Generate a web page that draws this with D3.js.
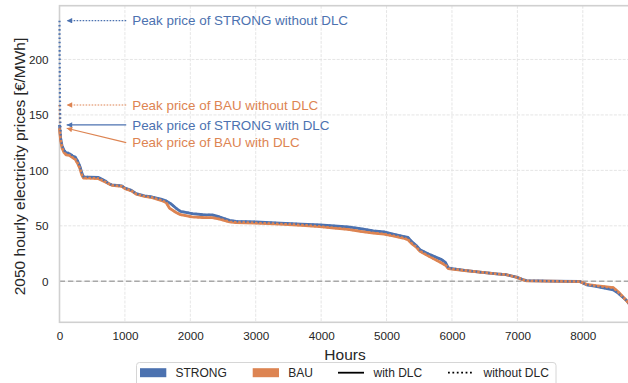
<!DOCTYPE html>
<html>
<head>
<meta charset="utf-8">
<script src="https://cdn.jsdelivr.net/npm/d3@7"></script>
<style>
  html, body { margin: 0; padding: 0; background: #ffffff; }
  svg { display: block; font-family: "Liberation Sans", Arial, sans-serif; }
</style>
</head>
<body>
<svg id="chart" width="628" height="383"></svg>
<script>
// Price duration curves, 2050: [hour rank, price €/MWh]
const strongWithDLC = [
  [0,141],[8,135],[20,128],[40,122],[70,118],[100,116],[150,115],[200,113],[240,112],[280,108],
  [316,103],[340,98],[367,94],[450,94],[596,93.6],[650,92],[700,90.5],[750,88],[800,87],[953,86],
  [1000,84],[1100,82],[1172,79],[1300,77],[1417,76],[1550,74],[1630,72.5],[1700,70],[1783,65.8],
  [1850,63],[2027,61],[2200,60],[2337,59.8],[2450,58],[2600,55],[2700,54],[3000,53.5],[3372,52.5],
  [3700,51.5],[3983,50.8],[4200,50],[4411,49],[4600,47.5],[4800,45.5],[4961,44.5],[5100,42.5],
  [5250,40.5],[5328,39.5],[5384,35.8],[5450,32.5],[5511,28.5],[5664,24],[5842,19.5],[5900,17],
  [5944,12],[6000,11.5],[6224,9.7],[6427,8.3],[6683,6.7],[6825,6],[6989,3.7],[7100,1.2],[7141,0.5],
  [7500,0.2],[7956,-0.2],[8058,-3.2],[8200,-4.5],[8465,-7.7],[8541,-10.7],[8669,-17.3],[8760,-24]
];
const bauWithDLC = [
  [0,138],[8,132],[20,126],[40,120],[70,116],[100,114],[150,113.5],[200,111.5],[240,110],[280,106],
  [316,101],[340,96],[367,93],[450,93],[596,92.5],[700,89.5],[800,86.5],[953,85.5],[1000,83.5],
  [1100,81.5],[1172,78.5],[1300,76.5],[1417,75.5],[1550,73],[1630,71],[1680,66],[1783,62],[1850,60],
  [2027,58],[2200,57.5],[2337,57.4],[2450,56],[2600,53.5],[2700,53],[3000,52.5],[3372,51.5],
  [3700,50.5],[3983,49.2],[4200,48],[4411,46.8],[4600,45],[4800,43.5],[4961,42.5],[5100,41],
  [5250,39],[5328,37.5],[5384,34],[5450,31],[5511,27],[5664,22],[5842,16.5],[5900,14.5],[5944,11.5],
  [6000,11],[6224,9.5],[6427,8.2],[6683,6.6],[6825,6],[6989,3.5],[7100,1],[7141,0.4],[7500,0.1],
  [7956,-0.3],[8058,-2.8],[8200,-4],[8465,-5.7],[8541,-9.5],[8669,-17.5],[8760,-24]
];
const strongWithoutDLC = [
  [0,235],[3,200],[6,170],[10,150],[15,138],[20,129],[40,122],[70,118],[100,116.5],[150,115.5],
  [200,113.5],[240,112],[280,108.5],[316,103],[340,98],[367,94.5],[450,94],[596,93.8],[650,92],
  [700,90.5],[750,88],[800,87],[953,86],[1000,84],[1100,82],[1172,79],[1300,77],[1417,76],[1550,74],
  [1630,72.5],[1700,70],[1783,66],[1850,63],[2027,61.2],[2200,60],[2337,59.8],[2450,58],[2600,55],
  [2700,54],[3000,53.5],[3372,52.5],[3700,51.5],[3983,50.8],[4200,50],[4411,49],[4600,47.5],
  [4800,45.5],[4961,44.5],[5100,42.5],[5250,40.5],[5328,39.5],[5384,35.8],[5450,32.5],[5511,28.5],
  [5664,24],[5842,19.5],[5900,17],[5944,12],[6000,11.5],[6224,9.7],[6427,8.3],[6683,6.7],[6825,6],
  [6989,3.7],[7100,1.2],[7141,0.5],[7500,0.2],[7956,-0.2],[8058,-3.2],[8200,-4.5],[8465,-7.7],
  [8541,-10.7],[8669,-17.3],[8760,-24]
];
const bauWithoutDLC = [
  [0,159],[4,150],[8,142],[12,135],[20,127],[40,120.5],[70,116.5],[100,114.5],[150,113.5],
  [200,111.5],[240,110],[280,106],[316,101],[340,96],[367,93],[450,93],[596,92.5],[700,89.5],
  [800,86.5],[953,85.5],[1000,83.5],[1100,81.5],[1172,78.5],[1300,76.5],[1417,75.5],[1550,73],
  [1630,71],[1680,66],[1783,62],[1850,60],[2027,58],[2200,57.5],[2337,57.4],[2450,56],[2600,53.5],
  [2700,53],[3000,52.5],[3372,51.5],[3700,50.5],[3983,49.2],[4200,48],[4411,46.8],[4600,45],
  [4800,43.5],[4961,42.5],[5100,41],[5250,39],[5328,37.5],[5384,34],[5450,31],[5511,27],[5664,22],
  [5842,16.5],[5900,14.5],[5944,11.5],[6000,11],[6224,9.5],[6427,8.2],[6683,6.6],[6825,6],
  [6989,3.5],[7100,1],[7141,0.4],[7500,0.1],[7956,-0.3],[8058,-2.8],[8200,-4],[8465,-5.7],
  [8541,-9.5],[8669,-17.5],[8760,-24]
];

const xTicks = [0,1000,2000,3000,4000,5000,6000,7000,8000];
const yTicks = [0,50,100,150,200];
const scenarios = ["STRONG", "BAU"];
const dlcCases = ["with DLC", "without DLC"];

const COLORS = { STRONG: "#4c72b0", BAU: "#dd8452" };

const svg = d3.select("#chart");
const L = 59.5, R = 632.5, T = 5.7, B = 322.3;

const x = d3.scaleLinear().domain([0, 8760]).range([L, R]);
const y = d3.scaleLinear().domain([-37, 248.5]).range([B, T]);

// grid
const grid = svg.append("g");
grid.selectAll("line.vx").data(xTicks).enter().append("line")
  .attr("x1", d => x(d)).attr("x2", d => x(d)).attr("y1", T).attr("y2", B)
  .attr("stroke", "#e2e2e2").attr("stroke-width", 0.9).attr("stroke-dasharray", "3,1.4");
grid.selectAll("line.hy").data(yTicks).enter().append("line")
  .attr("x1", L).attr("x2", R).attr("y1", d => y(d)).attr("y2", d => y(d))
  .attr("stroke", "#e2e2e2").attr("stroke-width", 0.9).attr("stroke-dasharray", "3,1.4");

// axes (tick labels only, seaborn whitegrid style)
const xAxis = svg.append("g").attr("transform", `translate(0,${B})`)
  .call(d3.axisBottom(x).tickValues(xTicks).tickSize(0).tickPadding(9).tickFormat(d3.format("d")));
const yAxis = svg.append("g").attr("transform", `translate(${L},0)`)
  .call(d3.axisLeft(y).tickValues(yTicks).tickSize(0).tickPadding(11).tickFormat(d3.format("d")));
[xAxis, yAxis].forEach(g => {
  g.select(".domain").remove();
  g.selectAll("text").attr("fill", "#262626").style("font-size", "11.7px")
    .style("font-family", "'Liberation Sans', Arial, sans-serif");
});

// zero reference line
svg.append("line")
  .attr("x1", L).attr("x2", R).attr("y1", y(0)).attr("y2", y(0))
  .attr("stroke", "#a8a8a8").attr("stroke-width", 1.5).attr("stroke-dasharray", "5.5,2.8");

// frame
svg.append("rect")
  .attr("x", L).attr("y", T).attr("width", R - L).attr("height", B - T)
  .attr("fill", "none").attr("stroke", "#d0d0d0").attr("stroke-width", 1.6);

// curves
const line = d3.line().x(d => x(d[0])).y(d => y(d[1]));
const plot = svg.append("g");
const curves = [
  { data: strongWithDLC, scen: "STRONG", dotted: false },
  { data: bauWithDLC, scen: "BAU", dotted: false },
  { data: bauWithoutDLC, scen: "BAU", dotted: true },
  { data: strongWithoutDLC, scen: "STRONG", dotted: true }
];
curves.forEach(c => {
  plot.append("path").datum(c.data).attr("d", line)
    .attr("fill", "none")
    .attr("stroke", COLORS[c.scen])
    .attr("stroke-width", c.dotted ? 2.2 : 2.8)
    .attr("stroke-linejoin", "round")
    .attr("stroke-dasharray", c.dotted ? "1.6,2.6" : null);
});

// peak annotations
const peak = arr => d3.max(arr, d => d[1]);
const notes = [
  { text: "Peak price of STRONG without DLC", scen: "STRONG", value: peak(strongWithoutDLC), dotted: true, textValue: peak(strongWithoutDLC) },
  { text: "Peak price of BAU without DLC", scen: "BAU", value: peak(bauWithoutDLC), dotted: true, textValue: peak(bauWithoutDLC) },
  { text: "Peak price of STRONG with DLC", scen: "STRONG", value: peak(strongWithDLC), dotted: false, textValue: peak(strongWithDLC) },
  { text: "Peak price of BAU with DLC", scen: "BAU", value: peak(bauWithDLC), dotted: false, textValue: 125 }
];
const defs = svg.append("defs");
scenarios.forEach(s => {
  defs.append("marker").attr("id", "arrow-" + s)
    .attr("viewBox", "0 0 10 10").attr("refX", 10).attr("refY", 5)
    .attr("markerUnits", "userSpaceOnUse").attr("markerWidth", 7.5).attr("markerHeight", 5.5)
    .attr("orient", "auto")
    .append("path").attr("d", "M0,0 L10,5 L0,10 Z").attr("fill", COLORS[s]);
});
const ann = svg.append("g");
notes.forEach(n => {
  const tipX = x(0) + 7.2, tipY = y(n.value);
  const tailX = x(1020), tailY = y(n.textValue);
  ann.append("line")
    .attr("x1", tailX).attr("y1", tailY).attr("x2", tipX).attr("y2", tipY)
    .attr("stroke", COLORS[n.scen]).attr("stroke-width", 1.1)
    .attr("stroke-dasharray", n.dotted ? "1.6,1.4" : null)
    .attr("marker-end", `url(#arrow-${n.scen})`);
  ann.append("text")
    .attr("x", tailX + 6).attr("y", tailY).attr("dy", "0.35em")
    .attr("fill", COLORS[n.scen]).style("font-size", "13.4px")
    .text(n.text);
});

// axis titles
svg.append("text").attr("x", (L + R) / 2 - 1).attr("y", 359.5).attr("text-anchor", "middle")
  .attr("fill", "#262626").style("font-size", "15.5px").text("Hours");
svg.append("text").attr("transform", "translate(24.5,166.5) rotate(-90)").attr("text-anchor", "middle")
  .attr("fill", "#262626").style("font-size", "15.5px").text("2050 hourly electricity prices [€/MWh]");

// legend
const lg = svg.append("g");
lg.append("rect").attr("x", 136.5).attr("y", 362.5).attr("width", 419.5).attr("height", 26)
  .attr("rx", 3).attr("fill", "#ffffff").attr("fill-opacity", 0.8)
  .attr("stroke", "#d6d6d6").attr("stroke-width", 1);
const legendItems = [
  { kind: "patch", color: COLORS.STRONG, label: scenarios[0], x0: 140 },
  { kind: "patch", color: COLORS.BAU, label: scenarios[1], x0: 252.7 },
  { kind: "solid", color: "#000000", label: dlcCases[0], x0: 338 },
  { kind: "dotted", color: "#000000", label: dlcCases[1], x0: 448 }
];
legendItems.forEach(it => {
  if (it.kind === "patch") {
    lg.append("rect").attr("x", it.x0).attr("y", 368.2).attr("width", 26.3).attr("height", 9)
      .attr("fill", it.color);
  } else {
    lg.append("line").attr("x1", it.x0).attr("x2", it.x0 + 26).attr("y1", 372.7).attr("y2", 372.7)
      .attr("stroke", it.color).attr("stroke-width", 1.8)
      .attr("stroke-dasharray", it.kind === "dotted" ? "1.8,2.6" : null);
  }
  lg.append("text").attr("x", it.x0 + 35.5).attr("y", 372.7).attr("dy", "0.35em")
    .attr("fill", "#262626").style("font-size", "12px").text(it.label);
});
</script>
</body>
</html>
